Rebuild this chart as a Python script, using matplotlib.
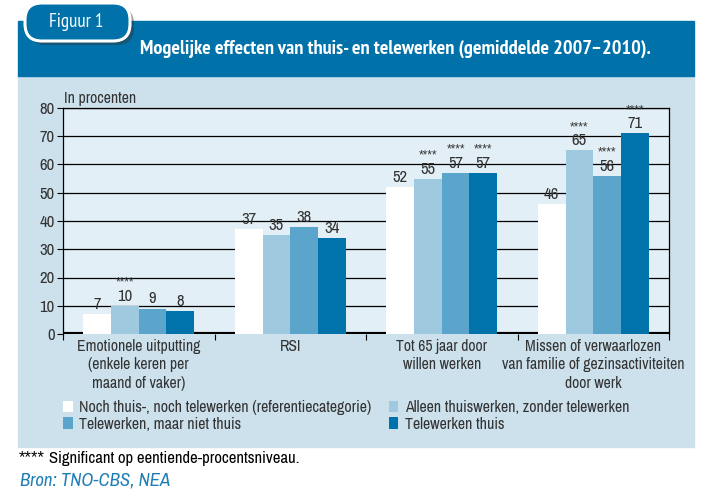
import matplotlib
matplotlib.use('Agg')
import matplotlib.pyplot as plt
from matplotlib.patches import Rectangle, FancyBboxPatch, Patch
from matplotlib.transforms import IdentityTransform
import numpy as np

plt.rcParams['font.family'] = ['Archivo Narrow', 'Liberation Sans', 'DejaVu Sans']
TITLE_FONT = ['PT Sans Narrow', 'Liberation Sans', 'DejaVu Sans']
STAR_FONT = ['Liberation Sans', 'DejaVu Sans']

# data
categories = ['Emotionele uitputting\n(enkele keren per\nmaand of vaker)',
              'RSI',
              'Tot 65 jaar door\nwillen werken',
              'Missen of verwaarlozen\nvan familie of gezinsactiviteiten\ndoor werk']
series = ['Noch thuis-, noch telewerken (referentiecategorie)',
          'Alleen thuiswerken, zonder telewerken',
          'Telewerken, maar niet thuis',
          'Telewerken thuis']
values = [[7, 37, 52, 46],
          [10, 35, 55, 65],
          [9, 38, 57, 56],
          [8, 34, 57, 71]]
significant = [[False, False, False, False],
               [True, False, True, True],
               [False, False, True, True],
               [False, False, True, True]]
yticks = [0, 10, 20, 30, 40, 50, 60, 70, 80]

colors = ['#ffffff', '#9fc9df', '#5ba4cb', '#0073aa']
band_blue = '#0071a9'
panel_bg = '#cce1ec'
axes_bg = '#e3eff6'
text_col = '#333333'

W, H = 717, 501
fig = plt.figure(figsize=(W / 100, H / 100), dpi=100)


def fx(x):
    return x / W


def fy(y):
    return 1 - y / H


# background panel and header band
fig.patches.append(Rectangle((fx(18), fy(447)), (694 - 18) / W, (447 - 76) / H,
                             transform=fig.transFigure, color=panel_bg, zorder=-3))
fig.patches.append(Rectangle((fx(18), fy(76)), (694 - 18) / W, (76 - 21) / H,
                             transform=fig.transFigure, color=band_blue, zorder=-2))

# "Figuur 1" tab with shadow
tr = IdentityTransform()
fig.patches.append(FancyBboxPatch((29, H - 45), 105, 38, boxstyle='round,pad=0,rounding_size=17',
                                  transform=tr, facecolor='#333333', edgecolor='none',
                                  alpha=0.45, zorder=-1.5))
fig.patches.append(FancyBboxPatch((25, H - 41), 105, 38, boxstyle='round,pad=0,rounding_size=17',
                                  transform=tr, facecolor=band_blue, edgecolor='white',
                                  linewidth=2.2, zorder=-1))
fig.text(fx(76), fy(22), 'Figuur 1', color='white', fontsize=13.5, family=TITLE_FONT,
         ha='center', va='center', zorder=3)
fig.text(fx(140), fy(49), 'Mogelijke effecten van thuis- en telewerken (gemiddelde 2007\u20132010).',
         color='white', fontsize=14.7, fontweight='bold', family=TITLE_FONT,
         ha='left', va='center')

# axes
ax = fig.add_axes([fx(63), fy(334), (669 - 63) / W, (334 - 108) / H])
ax.set_facecolor(axes_bg)
x = np.arange(len(categories))
w = 0.183
for i in range(4):
    bars = ax.bar(x + (i - 1.5) * w, values[i], width=w, color=colors[i],
                  edgecolor='none', zorder=3)
    for j, b in enumerate(bars):
        cx = b.get_x() + b.get_width() / 2
        ax.annotate(str(values[i][j]), (cx, values[i][j]), xytext=(0, 1.5),
                    textcoords='offset points', ha='center', va='bottom',
                    fontsize=12, color=text_col, zorder=4)
        if significant[i][j]:
            ax.annotate('****', (cx, values[i][j]), xytext=(0, 12.5),
                        textcoords='offset points', ha='center', va='bottom',
                        fontsize=8.5, family=STAR_FONT, color=text_col, zorder=4)

ax.set_xlim(-0.5, len(categories) - 0.5)
ax.set_ylim(0, 80)
ax.set_yticks(yticks)
ax.yaxis.grid(True, color='black', linewidth=0.9, zorder=1)
ax.set_axisbelow(True)
ax.axhline(0, color='black', linewidth=3, zorder=2)
ax.tick_params(axis='y', labelsize=12, length=4, width=0.8, pad=2, labelcolor=text_col)

ax.set_xticks(np.arange(len(categories) + 1) - 0.5)
ax.set_xticklabels([])
ax.tick_params(axis='x', which='major', length=4, width=0.8, direction='out')
ax.set_xticks(x, minor=True)
ax.set_xticklabels(categories, minor=True, fontsize=11.3, color=text_col,
                   linespacing=1.28)
ax.tick_params(axis='x', which='minor', length=0, pad=3.5)
for s in ax.spines.values():
    s.set_linewidth(0.9)
    s.set_color('black')
ax.spines['bottom'].set_visible(False)

fig.text(fx(64), fy(98), 'In procenten', fontsize=11.3, color=text_col, va='center')

# legend
handles = [Patch(facecolor=colors[k], edgecolor='none', label=series[k]) for k in range(4)]
order = [0, 2, 1, 3]
fig.legend([handles[k] for k in order], [series[k] for k in order], ncol=2,
           loc='upper left', bbox_to_anchor=(fx(63), fy(400)), frameon=False,
           fontsize=11.5, handlelength=0.6, handleheight=0.75, handletextpad=0.4,
           columnspacing=1.1, labelspacing=0.1, borderaxespad=0, borderpad=0,
           labelcolor=text_col)

fig.text(fx(19), fy(458), '****', fontsize=12, family=STAR_FONT, color='black', va='center')
fig.text(fx(49), fy(458), 'Significant op eentiende-procentsniveau.', fontsize=12,
         color='black', va='center')
fig.text(fx(20), fy(480), 'Bron: TNO-CBS, NEA', fontsize=13.5, style='italic',
         color='#1f7fb5', va='center')

fig.savefig('out.png', dpi=100)
